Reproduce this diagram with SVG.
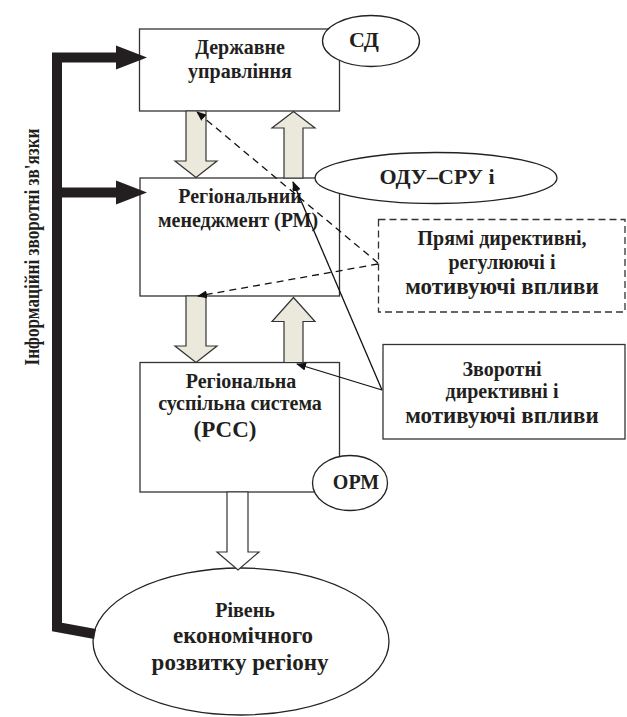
<svg xmlns="http://www.w3.org/2000/svg" width="627" height="717" viewBox="0 0 627 717" font-family="Liberation Serif, serif" font-weight="bold">
<defs>
<style>
.box{fill:#fff;stroke:#333;stroke-width:1.3}
.dbox{fill:#fff;stroke:#333;stroke-width:1.3;stroke-dasharray:7 4}
.ell{fill:#fff;stroke:#222;stroke-width:1.3}
.blk{fill:#ebe8dc;stroke:#333;stroke-width:1.2}
.blkw{fill:#fff;stroke:#333;stroke-width:1.2}
text{fill:#231f20;text-anchor:middle}
.s20{font-size:20px}
.s22{font-size:22px}
.s23{font-size:23px}
.thin{fill:none;stroke:#111;stroke-width:1.3}
.dash{fill:none;stroke:#111;stroke-width:1.3;stroke-dasharray:7 5}
.thick{fill:none;stroke:#231f20;stroke-width:10}
</style>
<marker id="ah" markerWidth="10" markerHeight="8" refX="9" refY="4" orient="auto" markerUnits="userSpaceOnUse">
<path d="M0,0 L10,4 L0,8 z" fill="#111"/>
</marker>
</defs>
<rect width="627" height="717" fill="#fff"/>

<g id="box-du">
<rect class="box" x="139.5" y="29" width="200" height="82"/>
<text class="s20" x="240" y="54" font-family="Liberation Serif, serif">Державне</text>
<text class="s20" x="240" y="78" font-family="Liberation Serif, serif">управління</text>
</g>
<g id="ell-sd">
<ellipse class="ell" cx="371" cy="41" rx="48.5" ry="25.5"/>
<text class="s22" x="364" y="47" font-family="Liberation Serif, serif">СД</text>
</g>

<g id="box-rm">
<rect class="box" x="140" y="178" width="199.5" height="118"/>
<text class="s20" x="240" y="203" font-family="Liberation Serif, serif">Регіональний</text>
<text class="s20" x="238" y="227" font-family="Liberation Serif, serif">менеджмент (РМ)</text>
</g>
<g id="ell-odu">
<ellipse class="ell" cx="436" cy="178" rx="121" ry="25.5"/>
<text class="s22" x="437" y="184" font-family="Liberation Serif, serif">ОДУ–СРУ і</text>
</g>

<g id="box-direct">
<rect class="dbox" x="378.5" y="219.5" width="246.5" height="92.5"/>
<text class="s20" x="502" y="245" font-family="Liberation Serif, serif">Прямі директивні,</text>
<text class="s20" x="502" y="269" font-family="Liberation Serif, serif">регулюючі і</text>
<text class="s23" x="502" y="294" font-family="Liberation Serif, serif">мотивуючі впливи</text>
</g>

<g id="box-rss">
<rect class="box" x="140" y="362.5" width="199.5" height="129.5"/>
<text class="s20" x="241" y="388" font-family="Liberation Serif, serif">Регіональна</text>
<text class="s20" x="240" y="410" font-family="Liberation Serif, serif">суспільна система</text>
<text class="s23" x="225" y="437" font-family="Liberation Serif, serif">(РСС)</text>
</g>
<g id="ell-orm">
<ellipse class="ell" cx="350" cy="483" rx="37.5" ry="27.5"/>
<text class="s20" x="356" y="489" font-family="Liberation Serif, serif">ОРМ</text>
</g>

<g id="box-back">
<rect class="box" x="383" y="344.5" width="242" height="94.5"/>
<text class="s20" x="502" y="376" font-family="Liberation Serif, serif">Зворотні</text>
<text class="s20" x="502" y="398" font-family="Liberation Serif, serif">директивні і</text>
<text class="s23" x="502" y="423" font-family="Liberation Serif, serif">мотивуючі впливи</text>
</g>

<g id="ell-level">
<ellipse class="ell" cx="241" cy="641.5" rx="148" ry="73.5"/>
<text class="s20" x="245" y="617" font-family="Liberation Serif, serif">Рівень</text>
<text class="s23" x="243" y="643" font-family="Liberation Serif, serif">економічного</text>
<text class="s23" x="240" y="670" font-family="Liberation Serif, serif">розвитку регіону</text>
</g>

<g id="feedback-label">
<text class="s22" transform="translate(39,247) rotate(-90)" x="0" y="0" font-family="Liberation Serif, serif" textLength="237" lengthAdjust="spacingAndGlyphs">Інформаційні зворотні зв'язки</text>
</g>

<g id="connectors">
<polygon class="blk" points="186,111 206,111 206,161 217,161 196,177.5 175,161 186,161"/>
<polygon class="blk" points="284,178 303,178 303,128 315,128 293.5,111.5 272,128 284,128"/>
<polygon class="blk" points="186,296 206,296 206,346 217,346 196,362.5 175,346 186,346"/>
<polygon class="blk" points="284,362.5 303,362.5 303,321.5 315,321.5 293.5,297.5 272,321.5 284,321.5"/>
<polygon class="blkw" points="227,492 248,492 248,552 259,552 238,570 217,552 227,552"/>

<path class="dash" d="M378,263 L197,112" marker-end="url(#ah)"/>
<path class="dash" d="M378,264 L198,296" marker-end="url(#ah)"/>
<path class="thin" d="M382,390 L293,182" marker-end="url(#ah)"/>
<path class="thin" d="M382,390 L297,364" marker-end="url(#ah)"/>

<path class="thick" d="M118,57.5 L57,57.5 L57,627 L95,634"/>
<path class="thick" d="M57,192.5 L118,192.5"/>
<polygon points="116,45.5 147,57.5 116,69.5" fill="#231f20"/>
<polygon points="116,180.5 147,192.5 116,204.5" fill="#231f20"/>
</g>
</svg>
